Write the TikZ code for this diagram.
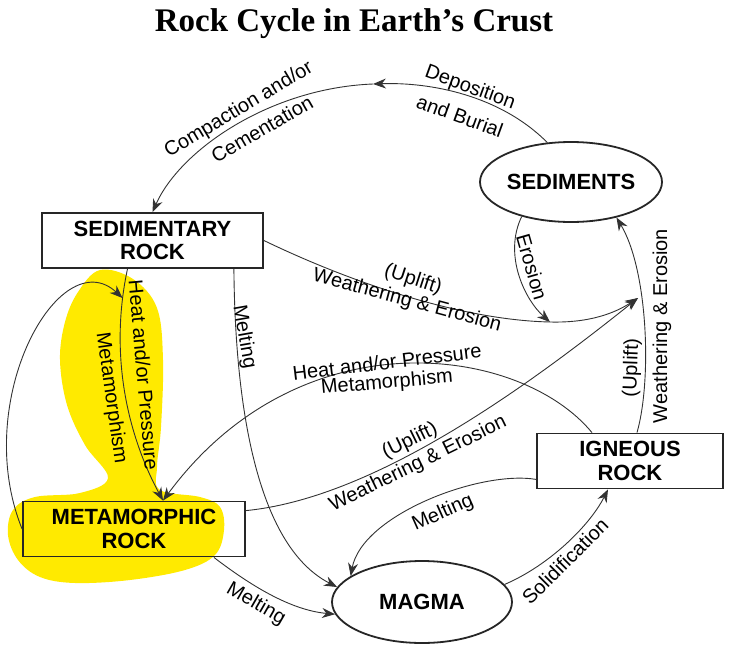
\documentclass[tikz,border=0pt]{standalone}
\usepackage{fontspec}
\setmainfont{Liberation Sans}
\newfontfamily\titlefont{Liberation Serif}
\usetikzlibrary{arrows.meta,shapes.geometric,calc}
\definecolor{hl}{RGB}{255,234,0}
\definecolor{ln}{RGB}{50,50,50}
\tikzset{
  rockbox/.style={draw=black!85,line width=1.8pt,fill=white,rectangle,minimum width=#1,minimum height=55pt,inner sep=0pt,align=center,font=\fontsize{22}{23.5}\selectfont\bfseries},
  rockell/.style={draw=black!85,line width=1.8pt,fill=white,ellipse,minimum width=182pt,minimum height=80pt,inner sep=0pt,font=\fontsize{22}{23.5}\selectfont\bfseries},
  conn/.style={draw=ln,line width=0.9pt},
  arr/.style={-{Stealth[length=13pt,width=10pt]}},
  lab/.style={inner sep=0pt,font=\fontsize{20}{22}\selectfont},
}
\begin{document}
\begin{tikzpicture}[x=1pt,y=-1pt]
\useasboundingbox (0,0) rectangle (740,646);
% yellow highlight
\fill[hl] plot[smooth cycle,tension=0.6] coordinates {(100,270) (133,279) (157,308) (163,360) (161,427) (157,467) (160,490) (200,497) (220,507) (224,530) (215,555) (185,570) (130,580) (75,583) (40,577) (18,560) (8,535) (13,510) (35,497) (80,493) (108,478) (85,445) (67,405) (60,360) (65,322) (78,292)};
% title
\node[font=\titlefont\fontsize{33}{37}\selectfont\bfseries] (title) at (354,24) {Rock Cycle in Earth’s Crust};
% nodes
\node[rockbox=221pt] (sedrock) at (152.5,240.5) {SEDIMENTARY\\ROCK};
\node[rockell] (sed) at (571,182) {SEDIMENTS};
\node[rockbox=222pt,fill=none] (met) at (134,529) {METAMORPHIC\\ROCK};
\node[rockbox=186pt] (ign) at (630,461) {IGNEOUS\\ROCK};
\node[rockell,minimum width=180pt,minimum height=82pt] (magma) at (422,602) {MAGMA};
% deposition / compaction
\coordinate (depmid) at (373,84);
\draw[conn,arr] (sed.121) .. controls (500,95) and (430,82) .. (depmid);
\draw[conn,arr] (depmid) .. controls (270,88) and (180,150) .. (sedrock.north);
% erosion and weathering from sedimentary rock
\coordinate (erojoin) at (550,322);
\coordinate (wtip) at (638,298);
\draw[conn,arr] (sed.215) .. controls (503,255) and (525,300) .. (erojoin);
\draw[conn,arr] (sedrock.east) .. controls (350,282) and (460,320) .. (erojoin) .. controls (590,323) and (615,313) .. (wtip);
% weathering from metamorphic rock
\draw[conn,arr] ($(met.north east)+(0,10)$) .. controls (375,498) and (528,386) .. (wtip);
% weathering from igneous rock
\draw[conn,arr] ($(ign.north)+(7,0)$) .. controls (652,380) and (648,270) .. (sed.-38);
% igneous -> metamorphic
\draw[conn,arr] ($(ign.north)+(-38,0)$) .. controls (520,345) and (300,315) .. ($(met.north)+(29,0)$);
% sedimentary -> metamorphic
\draw[conn,arr] ($(sedrock.south)+(-25,0)$) .. controls (110,350) and (125,430) .. coordinate[pos=0.12] (looptip) ($(met.north)+(29,0)$);
% loop
\draw[conn,arr] (met.west) .. controls (-30,400) and (60,240) .. (looptip);
% melting
\draw[conn,arr] ($(sedrock.south east)+(-30,0)$) .. controls (235,400) and (255,545) .. (magma.170);
\draw[conn,arr] ($(met.south east)+(-32,0)$) .. controls (250,585) and (290,610) .. (magma.188);
\draw[conn,arr] ($(ign.south west)+(0,-10)$) .. controls (480,470) and (362,515) .. (magma.160);
% solidification
\draw[conn,arr] (magma.12) .. controls (550,565) and (590,525) .. ($(ign.south)+(-22,0)$);
% labels
\node[lab,rotate=-20] (lDep) at (470,88) {Deposition};
\node[lab,rotate=-20] (lBur) at (460,116) {and Burial};
\node[lab,rotate=31] (lComp) at (239,110) {Compaction and/or};
\node[lab,rotate=30] (lCem) at (262,129) {Cementation};
\node[lab,rotate=-74] (lEro) at (532,267) {Erosion};
\node[lab,rotate=-18] (lUp1) at (413,280) {(Uplift)};
\node[lab,rotate=-15] (lWe1) at (407,301) {Weathering \& Erosion};
\node[lab,rotate=-80] (lMelt1) at (244,337) {Melting};
\node[lab,rotate=-85] (lHP1) at (144,375) {Heat and/or Pressure};
\node[lab,rotate=-82] (lMeta1) at (111,398) {Metamorphism};
\node[lab,rotate=7] (lHP2) at (387,362) {Heat and/or Pressure};
\node[lab,rotate=5] (lMeta2) at (387,383) {Metamorphism};
\node[lab,rotate=26] (lUp2) at (410,441) {(Uplift)};
\node[lab,rotate=26] (lWe2) at (418,464) {Weathering \& Erosion};
\node[lab,rotate=88] (lUp3) at (632,368) {(Uplift)};
\node[lab,rotate=90] (lWe3) at (662,326) {Weathering \& Erosion};
\node[lab,rotate=24] (lMelt2) at (443,513) {Melting};
\node[lab,rotate=45] (lSol) at (565,561) {Solidification};
\node[lab,rotate=-30] (lMelt3) at (256,604) {Melting};
\end{tikzpicture}
\end{document}
